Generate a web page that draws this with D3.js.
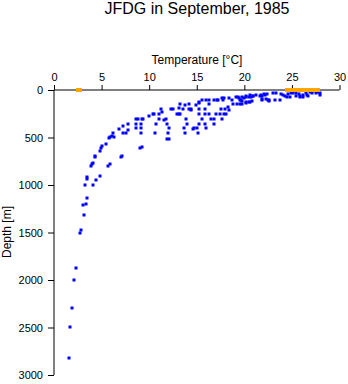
<!DOCTYPE html>
<html>
<head>
<meta charset="utf-8">
<script src="https://cdn.jsdelivr.net/npm/d3@7"></script>
<style>
  html, body { margin: 0; padding: 0; background: #fff; }
  svg { display: block; font-family: "Liberation Sans", Arial, Helvetica, sans-serif; }
</style>
</head>
<body>
<svg id="chart" width="348" height="384"></svg>
<script>
const title = "JFDG in September, 1985";
const xLabel = "Temperature [°C]";
const yLabel = "Depth [m]";
const xTicks = [0, 5, 10, 15, 20, 25, 30];
const yTicks = [0, 500, 1000, 1500, 2000, 2500, 3000];

// Profile samples (blue)
const profileTemp = [
  1.6,1.7,1.9,2.1,2.3,2.7,2.8,3.1,3.0,3.4,3.5,3.3,4.1,3.5,3.5,4.4,4.8,3.9,4.0,4.1,
  4.3,4.3,4.8,4.9,5.0,5.5,5.7,5.9,5.8,5.9,6.1,6.2,6.3,6.8,7.2,7.0,7.1,7.2,7.6,7.8,
  7.8,8.6,8.8,9.2,9.4,8.6,9.1,8.6,9.1,9.1,9.0,9.2,10.0,10.4,10.5,10.7,10.6,11.0,11.0,11.2,
  11.4,11.6,11.8,11.9,12.1,12.0,11.9,12.1,12.3,12.5,12.9,13.1,13.2,13.1,13.9,14.0,13.7,13.8,13.8,14.2,
  14.4,14.7,15.0,15.1,14.9,15.2,15.2,15.6,16.0,16.3,16.3,16.8,17.1,17.2,17.7,17.9,17.8,18.4,18.7,19.1,
  19.3,19.4,19.7,20.0,20.2,20.5,20.7,20.9,21.6,21.9,21.9,22.5,22.6,22.2,14.4,15.2,15.9,17.5,18.0,18.3,
  18.4,18.8,19.2,19.5,19.8,20.2,20.6,20.8,15.2,15.9,16.3,17.0,17.4,17.9,18.1,15.6,16.5,16.8,17.7,15.2,
  15.9,16.8,14.6,16.0,23.3,23.0,23.7,23.2,21.8,22.1,22.4,21.9,22.3,22.6,21.2,20.9,19.8,20.2,20.6,19.5,
  19.8,20.2,20.5,24.1,24.3,24.5,24.8,25.1,25.4,25.7,25.9,26.2,26.5,26.9,27.2,27.5,27.7,27.9,28.0,25.8,
  26.2,26.6,27.1,13.2,13.6,14.2,23.9,24.6,24.9,25.4,26.7
];
const profileDepth = [
  2820,2495,2295,2005,1877,1505,1477,1319,1208,1204,1137,1003,1003,911,934,951,906,800,779,766,
  709,692,639,608,586,572,800,782,509,492,481,456,498,407,382,709,698,456,456,355,
  421,309,309,309,309,355,355,403,403,456,608,597,277,256,253,355,456,256,309,203,
  228,316,309,355,403,456,511,511,203,203,253,253,256,193,307,355,403,456,155,147,
  203,403,403,456,155,134,123,105,105,105,151,105,105,105,87,87,105,87,102,74,
  74,87,102,81,74,74,74,63,60,60,105,105,105,53,207,203,203,203,203,176,
  211,151,151,151,151,123,123,113,256,256,256,256,256,256,256,305,305,305,305,358,
  358,358,411,403,35,35,105,105,53,45,45,98,92,116,56,60,71,63,49,105,
  116,134,123,53,63,77,71,35,28,42,63,56,28,18,7,28,18,35,53,71,
  77,49,35,147,203,203,37,42,32,68,68
];

// Surface samples (orange)
const surfaceTemp = [2.6, 24.6, 25.0, 25.6, 26.0, 26.4, 26.8, 27.2, 27.6];
const surfaceDepth = [5, 5, 5, 5, 5, 5, 5, 5, 5];

const svg = d3.select("#chart");
const x = d3.scaleLinear().domain([0, 30]).range([54, 339.5]);
const y = d3.scaleLinear().domain([0, 3000]).range([90, 375]);

// title
svg.append("text").attr("x", 197).attr("y", 14).attr("text-anchor", "middle")
  .attr("font-size", 16).attr("fill", "#000").text(title);

// x axis (top)
const xAxis = d3.axisTop(x).tickValues(xTicks).tickSize(5).tickPadding(4).tickFormat(d3.format("d"));
const gx = svg.append("g").attr("transform", "translate(0,90)").call(xAxis);
gx.select(".domain").attr("d", `M${x(0)},0H${x(30)}`).attr("stroke", "#000");
gx.selectAll("text").attr("font-size", 11).attr("font-family", "Liberation Sans, Arial, sans-serif").attr("fill", "#000");
gx.selectAll("line").attr("stroke", "#000");

// y axis
const yAxis = d3.axisLeft(y).tickValues(yTicks).tickSize(6).tickPadding(5).tickFormat(d3.format("d"));
const gy = svg.append("g").attr("transform", "translate(54,0)").call(yAxis);
gy.select(".domain").attr("d", `M0,${y(0)}V${y(3000)}`).attr("stroke", "#000");
gy.selectAll("text").attr("font-size", 11).attr("font-family", "Liberation Sans, Arial, sans-serif").attr("fill", "#000");
gy.selectAll("line").attr("stroke", "#000");

// axis labels
svg.append("text").attr("x", 197).attr("y", 64).attr("text-anchor", "middle")
  .attr("font-size", 12).attr("fill", "#000").text(xLabel);
svg.append("text").attr("transform", "translate(11,232) rotate(-90)").attr("text-anchor", "middle")
  .attr("font-size", 12).attr("fill", "#000").text(yLabel);

// blue profile points
const prof = profileTemp.map((t, i) => ({t, d: profileDepth[i]}));
svg.append("g").selectAll("rect").data(prof).join("rect")
  .attr("x", d => Math.round(x(d.t)) - 1.5)
  .attr("y", d => Math.round(y(d.d)) - 1.5)
  .attr("width", 3).attr("height", 3)
  .attr("fill", "#0000ff");

// orange surface points
const surf = surfaceTemp.map((t, i) => ({t, d: surfaceDepth[i]}));
svg.append("g").selectAll("rect").data(surf).join("rect")
  .attr("x", d => Math.round(x(d.t)) - 3)
  .attr("y", d => Math.round(y(d.d)) - 2)
  .attr("width", 6).attr("height", 4)
  .attr("fill", "#ffa500");
</script>
</body>
</html>
